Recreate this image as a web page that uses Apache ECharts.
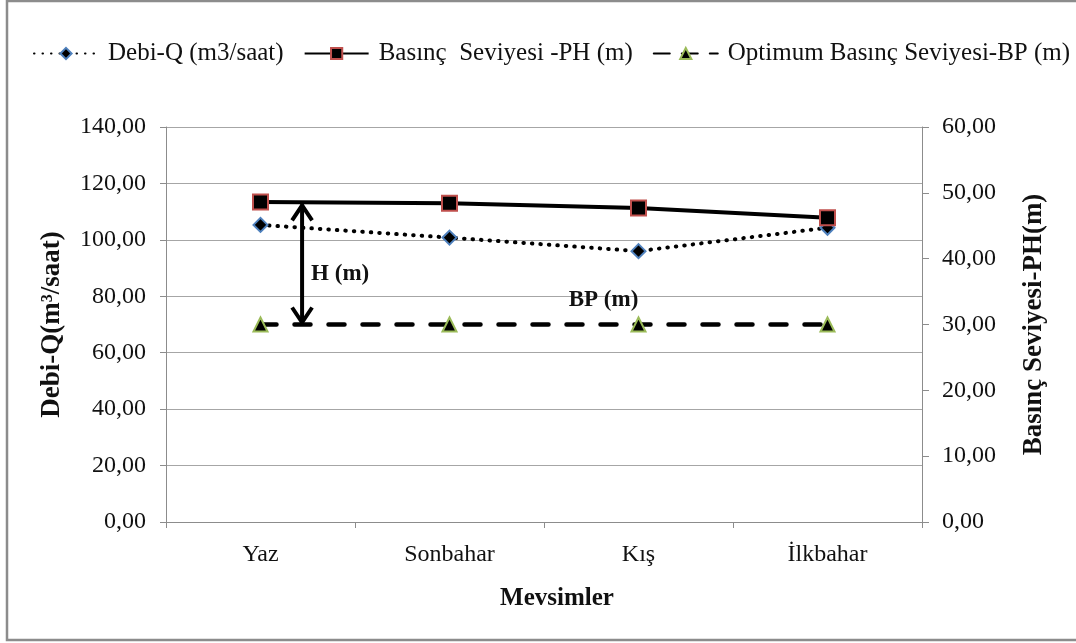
<!DOCTYPE html>
<html>
<head>
<meta charset="utf-8">
<script src="https://cdn.jsdelivr.net/npm/echarts@6/dist/echarts.min.js"></script>
<style>
html,body{margin:0;padding:0;background:#fff;}
#main{width:1076px;height:643px;}
</style>
</head>
<body>
<div id="main"></div>
<script>
const categories = ['Yaz', 'Sonbahar', 'Kış', 'İlkbahar'];
const debiQ = [105.3, 100.8, 96.0, 104.3];
const basincPH = [48.6, 48.4, 47.7, 46.2];
const optimumBP = [30.0, 30.0, 30.0, 30.0];
const leftTicks = [0, 20, 40, 60, 80, 100, 120, 140];
const rightTicks = [0, 10, 20, 30, 40, 50, 60];
const seriesNames = ['Debi-Q (m3/saat)', 'Basınç  Seviyesi -PH (m)', 'Optimum Basınç Seviyesi-BP (m)'];

const FONT = '"Liberation Serif", "Times New Roman", serif';
const FS = 24;
const fmt = v => v.toFixed(2).replace('.', ',');

const chart = echarts.init(document.getElementById('main'));
const option = {
  animation: false,
  backgroundColor: '#fff',
  textStyle: { fontFamily: FONT },
  legend: {
    left: 28, top: 36,
    itemWidth: 64, itemHeight: 14, itemGap: 20,
    textStyle: { fontFamily: FONT, fontSize: 25, color: '#111', padding: [0, 0, 0, 5] },
    data: [
      { name: seriesNames[0] },
      { name: seriesNames[1] },
      { name: seriesNames[2], lineStyle: { type: [16, 12] } }
    ]
  },
  grid: { left: 166, right: 154, top: 127, bottom: 121 },
  xAxis: {
    type: 'category',
    data: categories,
    boundaryGap: true,
    axisLine: { lineStyle: { color: '#8c8c8c', width: 1 } },
    axisTick: { show: true, length: 6, inside: false, lineStyle: { color: '#8c8c8c' } },
    axisLabel: { fontFamily: FONT, fontSize: FS, color: '#111', margin: 21 },
    name: 'Mevsimler', nameLocation: 'middle', nameGap: 64,
    nameTextStyle: { fontFamily: FONT, fontSize: 25, fontWeight: 'bold', color: '#111', padding: [0, 0, 0, 26] }
  },
  yAxis: [
    {
      type: 'value', min: leftTicks[0], max: leftTicks[leftTicks.length - 1], interval: 20,
      position: 'left',
      axisLine: { show: true, lineStyle: { color: '#8c8c8c' } },
      axisTick: { show: true, length: 6, lineStyle: { color: '#8c8c8c' } },
      splitLine: { show: true, lineStyle: { color: '#a6a6a6', width: 1 } },
      axisLabel: { formatter: fmt, fontFamily: FONT, fontSize: FS, color: '#111', margin: 20 },
      name: 'Debi-Q(m³/saat)', nameLocation: 'middle', nameGap: 100, nameRotate: 90,
      nameTextStyle: { fontFamily: FONT, fontSize: 27, fontWeight: 'bold', color: '#111' }
    },
    {
      type: 'value', min: rightTicks[0], max: rightTicks[rightTicks.length - 1], interval: 10,
      position: 'right',
      axisLine: { show: true, lineStyle: { color: '#8c8c8c' } },
      axisTick: { show: true, length: 7, lineStyle: { color: '#8c8c8c' } },
      splitLine: { show: false },
      axisLabel: { formatter: fmt, fontFamily: FONT, fontSize: FS, color: '#111', margin: 20 },
      name: 'Basınç Seviyesi-PH(m)', nameLocation: 'middle', nameGap: 99, nameRotate: 90,
      nameTextStyle: { fontFamily: FONT, fontSize: 27, fontWeight: 'bold', color: '#111' }
    }
  ],
  series: [
    {
      name: seriesNames[0], type: 'line', yAxisIndex: 0, data: debiQ,
      symbol: 'diamond', symbolSize: 14,
      lineStyle: { color: '#000', width: 4, type: [0.5, 8], cap: 'round' },
      itemStyle: { color: '#000', borderColor: '#4F81BD', borderWidth: 2 },
      z: 3
    },
    {
      name: seriesNames[1], type: 'line', yAxisIndex: 1, data: basincPH,
      symbol: 'rect', symbolSize: 15,
      lineStyle: { color: '#000', width: 4, type: 'solid' },
      itemStyle: { color: '#000', borderColor: '#C0504D', borderWidth: 2 },
      z: 4
    },
    {
      name: seriesNames[2], type: 'line', yAxisIndex: 1, data: optimumBP,
      symbol: 'triangle', symbolSize: 14,
      lineStyle: { color: '#000', width: 4.5, type: [16, 18], cap: 'round' },
      itemStyle: { color: '#000', borderColor: '#9BBB59', borderWidth: 2 },
      z: 3
    }
  ]
};
chart.setOption(option);

// annotations placed through the chart's own scales
const p0 = chart.convertToPixel({ seriesIndex: 1 }, [0, basincPH[0]]);
const p1 = chart.convertToPixel({ seriesIndex: 1 }, [1, basincPH[1]]);
const pb = chart.convertToPixel({ seriesIndex: 2 }, [0, optimumBP[0]]);
const pb2 = chart.convertToPixel({ seriesIndex: 2 }, [2, optimumBP[2]]);
const ax = p0[0] + (p1[0] - p0[0]) * 0.22;
const topY = p0[1] + (p1[1] - p0[1]) * 0.22 + 2;
const botY = pb[1] - 1;
const head = 13;
chart.setOption({
  graphic: [
    { type: 'rect', shape: { x: 7, y: 1, width: 1080, height: 639 }, style: { fill: 'none', stroke: '#8c8c8c', lineWidth: 2.5 }, silent: true, z: 0 },
    { type: 'line', shape: { x1: ax, y1: topY, x2: ax, y2: botY }, style: { stroke: '#000', lineWidth: 4 }, z: 10 },
    { type: 'polyline', shape: { points: [[ax - 10, topY + head + 3], [ax, topY + 1], [ax + 10, topY + head + 3]] }, style: { stroke: '#000', lineWidth: 4, fill: 'none' }, z: 10 },
    { type: 'polyline', shape: { points: [[ax - 10, botY - head - 3], [ax, botY - 1], [ax + 10, botY - head - 3]] }, style: { stroke: '#000', lineWidth: 4, fill: 'none' }, z: 10 },
    { type: 'text', x: ax + 9, y: (topY + botY) / 2 + 10, style: { text: 'H (m)', font: 'bold 23px ' + FONT, fill: '#111', verticalAlign: 'middle' }, z: 10 },
    { type: 'text', x: pb2[0] - 35, y: pb2[1] - 24, style: { text: 'BP (m)', font: 'bold 23px ' + FONT, fill: '#111', verticalAlign: 'middle', align: 'center' }, z: 10 }
  ]
});
</script>
</body>
</html>
